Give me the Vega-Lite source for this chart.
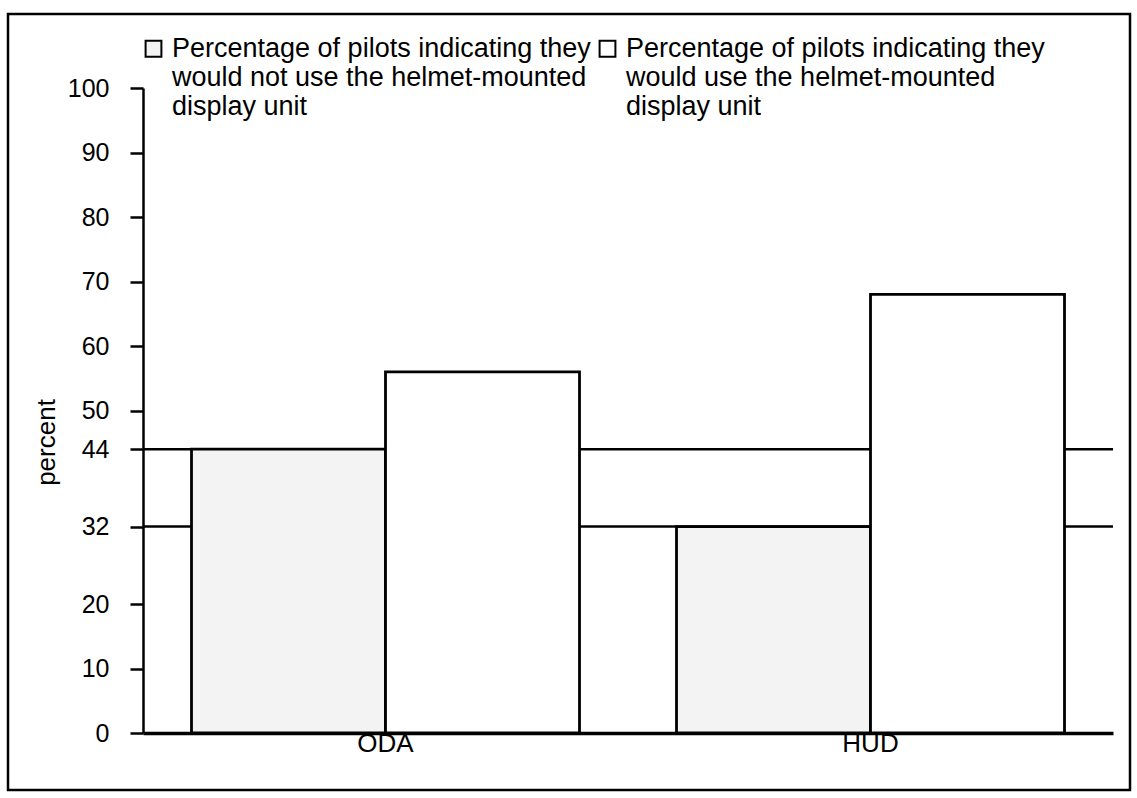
{
  "$schema": "https://vega.github.io/schema/vega-lite/v6.json",
  "width": 1122,
  "height": 776,
  "autosize": {"type": "none"},
  "padding": {"left": 8, "top": 14, "right": 7, "bottom": 8},
  "background": "white",
  "view": {"stroke": "black", "strokeWidth": 2.5, "fill": "white"},
  "config": {"font": "Liberation Sans"},
  "layer": [
    {
      "data": {"values": [{"level": 32}, {"level": 44}]},
      "mark": {"type": "rule", "color": "black", "strokeWidth": 2.5},
      "encoding": {
        "y": {"field": "level", "type": "quantitative", "scale": {"domain": [0, 100], "range": [719, 74], "nice": false}},
        "x": {"datum": "ODA", "type": "nominal", "bandPosition": -0.125},
        "x2": {"datum": "HUD", "bandPosition": 1.125}
      }
    },
    {
      "data": {"values": [
        {"system": "ODA", "response": "not", "percent": 44},
        {"system": "ODA", "response": "use", "percent": 56},
        {"system": "HUD", "response": "not", "percent": 32},
        {"system": "HUD", "response": "use", "percent": 68}
      ]},
      "mark": {"type": "bar", "stroke": "black", "strokeWidth": 2.8},
      "encoding": {
        "x": {
          "field": "system", "type": "nominal",
          "scale": {"type": "band", "domain": ["ODA", "HUD"], "range": [135, 1105], "paddingInner": 0.2, "paddingOuter": 0.1},
          "axis": {"orient": "bottom", "offset": -57, "title": null, "ticks": false, "labelAngle": 0, "labelAlign": "center", "labelFontSize": 26, "labelColor": "black", "labelPadding": 10, "domainColor": "black", "domainWidth": 3.5, "grid": false}
        },
        "xOffset": {"field": "response", "type": "nominal", "sort": ["not", "use"], "scale": {"paddingInner": 0, "paddingOuter": 0}},
        "y": {
          "field": "percent", "type": "quantitative",
          "scale": {"domain": [0, 100], "range": [719, 74], "nice": false},
          "axis": {"orient": "left", "offset": -135, "values": [0, 10, 20, 32, 44, 50, 60, 70, 80, 90, 100], "grid": false, "tickSize": 13, "tickWidth": 2.5, "tickColor": "black", "domainColor": "black", "domainWidth": 2.5, "labelFontSize": 25, "labelColor": "black", "labelPadding": 21, "title": "percent", "titleFontSize": 26, "titleFontWeight": "normal", "titleColor": "black", "titleX": -97, "titleY": 428, "titleAlign": "center", "titleBaseline": "middle", "titleAngle": -90}
        },
        "fill": {
          "field": "response", "type": "nominal",
          "scale": {"domain": ["not", "use"], "range": ["#f3f3f3", "#ffffff"]},
          "legend": {
            "orient": "none", "legendX": 132, "legendY": 21, "direction": "horizontal", "columns": 2, "title": null,
            "labelExpr": "datum.value == 'not' ? ['Percentage of pilots indicating they', 'would not use the helmet-mounted', 'display unit'] : ['Percentage of pilots indicating they', 'would use the helmet-mounted', 'display unit']",
            "labelFontSize": 27, "labelColor": "black", "labelLimit": 800, "labelLineHeight": 29, "labelBaseline": "middle",
            "symbolType": "square", "symbolSize": 250, "symbolStrokeColor": "black", "symbolStrokeWidth": 2,
            "columnPadding": 3, "labelOffset": 5, "padding": 0
          }
        }
      }
    }
  ]
}
